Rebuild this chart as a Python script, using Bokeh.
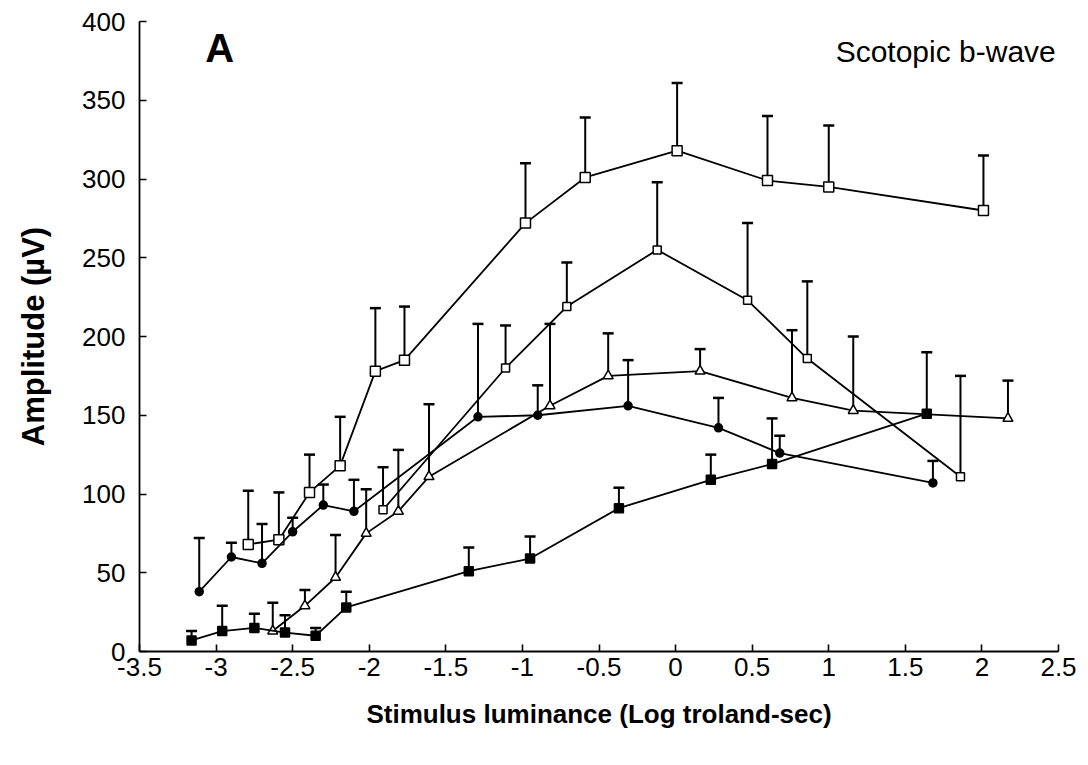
from bokeh.plotting import figure
from bokeh.models import ColumnDataSource, Whisker, TeeHead, FixedTicker, Label
from bokeh.embed import file_html
from bokeh.resources import INLINE

# x tick values and labels
x_ticks = [-3.5, -3, -2.5, -2, -1.5, -1, -0.5, 0, 0.5, 1, 1.5, 2, 2.5]
x_tick_labels = ["-3.5", "-3", "-2.5", "-2", "-1.5", "-1", "-0.5", "0", "0.5", "1", "1.5", "2", "2.5"]
y_ticks = [0, 50, 100, 150, 200, 250, 300, 350, 400]

# Series: large open squares
o_x = [-2.79, -2.59, -2.39, -2.19, -1.96, -1.77, -0.98, -0.59, 0.01, 0.60, 1.00, 2.01]
o_y = [68, 71, 101, 118, 178, 185, 272, 301, 318, 299, 295, 280]
o_top = [102, 101, 125, 149, 218, 219, 310, 339, 361, 340, 334, 315]

# Series: small open squares
m_x = [-1.91, -1.11, -0.71, -0.12, 0.47, 0.86, 1.86]
m_y = [90, 180, 219, 255, 223, 186, 111]
m_top = [117, 207, 247, 298, 272, 235, 175]

# Series: open triangles
t_x = [-2.63, -2.42, -2.22, -2.02, -1.81, -1.61, -0.82, -0.44, 0.16, 0.76, 1.16, 2.17]
t_y = [13, 29, 47, 75, 89, 111, 156, 175, 178, 161, 153, 148]
t_top = [31, 39, 74, 103, 128, 157, 208, 202, 192, 204, 200, 172]

# Series: filled circles
c_x = [-3.11, -2.90, -2.70, -2.50, -2.30, -2.10, -1.29, -0.90, -0.31, 0.28, 0.68, 1.68]
c_y = [38, 60, 56, 76, 93, 89, 149, 150, 156, 142, 126, 107]
c_top = [72, 69, 81, 85, 106, 109, 208, 169, 185, 161, 137, 121]

# Series: filled squares
s_x = [-3.16, -2.96, -2.75, -2.55, -2.35, -2.15, -1.35, -0.95, -0.37, 0.23, 0.63, 1.64]
s_y = [7, 13, 15, 12, 10, 28, 51, 59, 91, 109, 119, 151]
s_top = [13, 29, 24, 23, 15, 38, 66, 73, 104, 125, 148, 190]

FONT = "Liberation Sans"

p = figure(width=1080, height=757, x_range=(-3.5, 2.5), y_range=(0, 400),
           output_backend="svg", toolbar_location=None,
           min_border_left=139, min_border_right=22, min_border_top=21, min_border_bottom=106)
p.outline_line_color = None
p.grid.visible = False
p.background_fill_color = "white"

series = [
    (o_x, o_y, o_top, "square", 10, "white"),
    (m_x, m_y, m_top, "square", 8, "white"),
    (t_x, t_y, t_top, "triangle", 10, "white"),
    (c_x, c_y, c_top, "circle", 8, "black"),
    (s_x, s_y, s_top, "square", 9, "black"),
]

for xs, ys, tops, marker, size, fill in series:
    src = ColumnDataSource(dict(x=xs, y=ys, top=tops))
    w = Whisker(source=src, base="x", upper="top", lower="y", dimension="height",
                line_color="black", line_width=2,
                upper_head=TeeHead(size=11, line_color="black", line_width=2.5),
                lower_head=None)
    p.add_layout(w)
    p.line("x", "y", source=src, line_color="black", line_width=1.8)
    p.scatter("x", "y", source=src, marker=marker, size=size, fill_color=fill,
              line_color="black", line_width=1.5)

# Axes
for ax in (p.xaxis[0], p.yaxis[0]):
    ax.axis_line_width = 1.8
    ax.axis_line_color = "black"
    ax.major_tick_in = 7
    ax.major_tick_out = 0
    ax.minor_tick_line_color = None
    ax.major_tick_line_width = 1.6
    ax.major_label_text_font = FONT
    ax.major_label_text_font_size = "26px"
    ax.major_label_text_color = "black"
    ax.axis_label_text_font = FONT
    ax.axis_label_text_font_style = "bold"
    ax.axis_label_text_color = "black"

p.xaxis.ticker = FixedTicker(ticks=x_ticks)
p.xaxis.major_label_overrides = {t: l for t, l in zip(x_ticks, x_tick_labels)}
p.yaxis.ticker = FixedTicker(ticks=y_ticks)
p.xaxis.axis_label = "Stimulus luminance (Log troland-sec)"
p.yaxis.axis_label = "Amplitude (\u00b5V)"
p.xaxis.axis_label_text_font_size = "26px"
p.yaxis.axis_label_text_font_size = "31px"
p.xaxis.major_label_standoff = 6
p.yaxis.major_label_standoff = 14
p.xaxis.axis_label_standoff = 20
p.yaxis.axis_label_standoff = 28

p.add_layout(Label(x=-3.07, y=383, text="A", text_font=FONT, text_font_size="40px",
                   text_font_style="bold", text_baseline="middle", text_color="black"))
p.add_layout(Label(x=1.045, y=381, text="Scotopic b-wave", text_font=FONT,
                   text_font_size="30px", text_baseline="middle", text_color="black"))

open("out.html", "w").write(file_html(p, INLINE))
